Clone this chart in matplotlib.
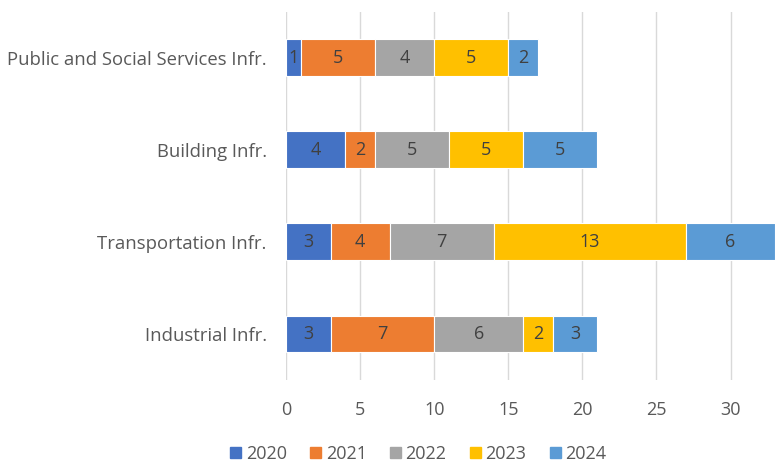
import matplotlib.pyplot as plt
from matplotlib.patches import Patch

plt.rcParams['font.family'] = ['Open Sans', 'DejaVu Sans']

categories = ["Industrial Infr.", "Transportation Infr.", "Building Infr.",
              "Public and Social Services Infr."]
years = ["2020", "2021", "2022", "2023", "2024"]
v2020 = [3, 3, 4, 1]
v2021 = [7, 4, 2, 5]
v2022 = [6, 7, 5, 4]
v2023 = [2, 13, 5, 5]
v2024 = [3, 6, 5, 2]
series = [v2020, v2021, v2022, v2023, v2024]
colors = ["#4472C4", "#ED7D31", "#A5A5A5", "#FFC000", "#5B9BD5"]

fig = plt.figure(figsize=(7.82, 4.72), dpi=100)
ax = fig.add_axes([0.366, 0.195, 0.625, 0.78])

left = [0] * len(categories)
for vals, col, yr in zip(series, colors, years):
    bars = ax.barh(range(len(categories)), vals, left=left, height=0.4,
                   color=col, edgecolor="white", linewidth=0.8, label=yr, zorder=3)
    ax.bar_label(bars, labels=[str(v) for v in vals], label_type="center",
                 color="#404040", fontsize=13)
    left = [a + b for a, b in zip(left, vals)]

ax.set_xlim(0, 33)
ax.set_ylim(-0.5, 3.5)
ax.set_xticks(range(0, 31, 5))
ax.set_yticks(range(len(categories)))
ax.set_yticklabels(categories, fontsize=13.3)
ax.tick_params(axis="both", length=0, colors="#595959")
ax.tick_params(axis="x", pad=15, labelsize=13)
ax.tick_params(axis="y", pad=14)
ax.grid(axis="x", color="#D9D9D9", linewidth=1, zorder=0)
for s in ax.spines.values():
    s.set_visible(False)

handles = [Patch(color=c, label=y) for c, y in zip(colors, years)]
fig.legend(handles=handles, loc="lower center", ncol=5, frameon=False,
           bbox_to_anchor=(0.535, -0.015), fontsize=13, handlelength=0.6,
           handleheight=0.6, handletextpad=0.25, columnspacing=1.3,
           labelcolor="#595959")

fig.savefig("out.png", dpi=100)
